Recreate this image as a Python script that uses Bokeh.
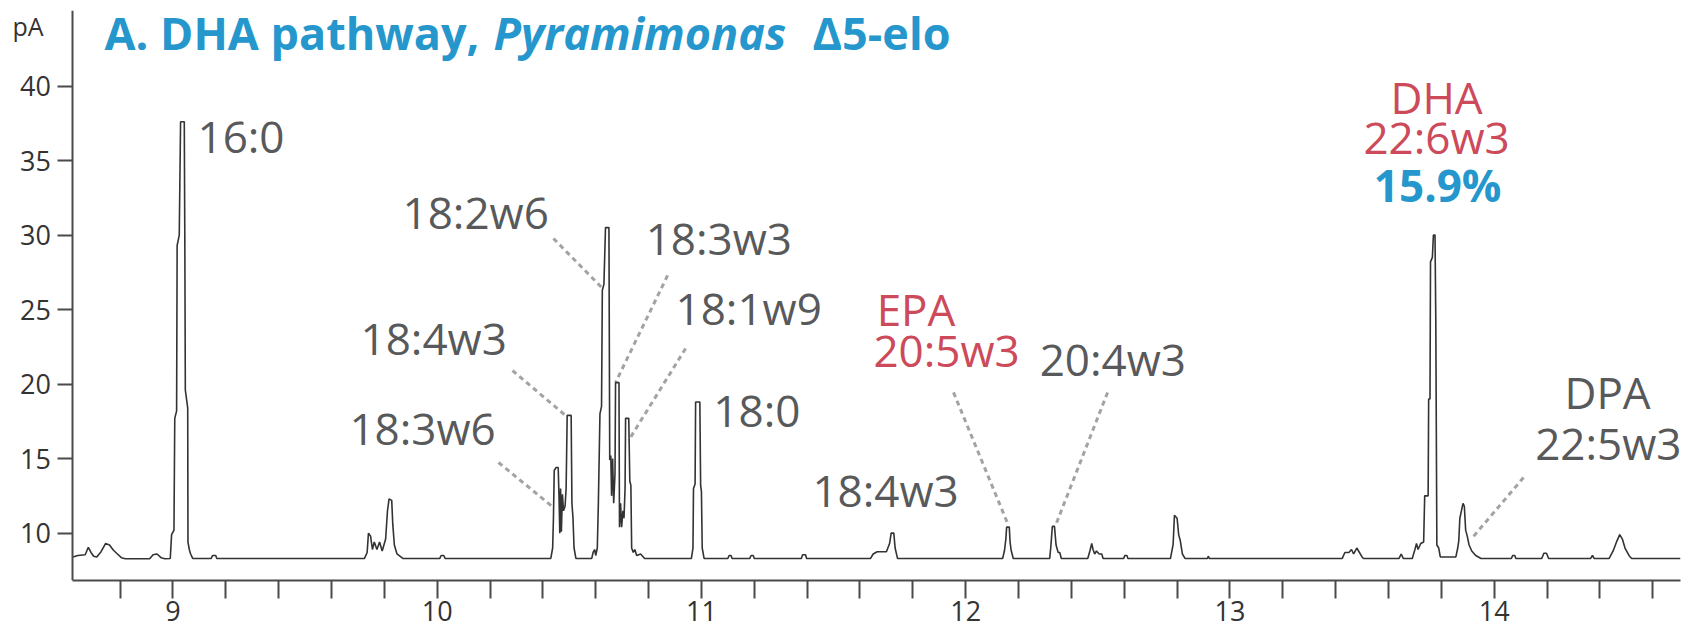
from bokeh.plotting import figure
from bokeh.models import Range1d, FixedTicker, Label
from bokeh.core.properties import value
from bokeh.embed import file_html
from bokeh.resources import INLINE

# ---- chromatogram trace (retention time in min, signal in pA) ----
rt = [8.622, 8.640, 8.668, 8.680, 8.690, 8.700, 8.712, 8.728, 8.745, 8.760, 8.775, 8.790, 8.805, 8.820,
      8.912, 8.925, 8.940, 8.955, 8.970, 8.990, 8.995, 9.004, 9.007, 9.014, 9.016, 9.024, 9.029, 9.043,
      9.045, 9.047, 9.056, 9.057, 9.062, 9.067, 9.075, 9.145, 9.150, 9.162, 9.166,
      9.725, 9.735, 9.740, 9.748, 9.755, 9.762, 9.772, 9.782, 9.792, 9.805, 9.812, 9.818, 9.828, 9.832,
      9.838, 9.848, 9.870, 10.010, 10.015, 10.025, 10.030,
      10.430, 10.437, 10.440, 10.443, 10.450, 10.458, 10.461, 10.464, 10.467, 10.470, 10.474, 10.478,
      10.484, 10.488, 10.492, 10.507, 10.510, 10.514, 10.518, 10.525, 10.585, 10.590, 10.596, 10.600,
      10.606, 10.610, 10.616, 10.622, 10.625, 10.631, 10.637, 10.650, 10.653, 10.657, 10.660, 10.664,
      10.668, 10.673, 10.675, 10.688, 10.690, 10.694, 10.698, 10.703, 10.707, 10.711, 10.713, 10.725,
      10.729, 10.733, 10.736, 10.742, 10.748, 10.755, 10.770, 10.785,
      10.962, 10.968, 10.970, 10.976, 10.978, 10.994, 10.997, 11.000, 11.003, 11.010,
      11.100, 11.105, 11.112, 11.116, 11.183, 11.188, 11.196, 11.200, 11.378, 11.383, 11.394, 11.398,
      11.640, 11.650, 11.665, 11.700, 11.712, 11.718, 11.728, 11.733, 11.742,
      12.140, 12.147, 12.152, 12.155, 12.165, 12.168, 12.172, 12.180,
      12.318, 12.322, 12.328, 12.336, 12.342, 12.350, 12.356, 12.362,
      12.462, 12.470, 12.477, 12.482, 12.488, 12.495, 12.505, 12.515, 12.520,
      12.598, 12.602, 12.610, 12.614,
      12.775, 12.785, 12.790, 12.800, 12.806, 12.812, 12.820, 12.830, 12.915, 12.918, 12.922,
      13.425, 13.435, 13.450, 13.460, 13.468, 13.480, 13.490, 13.500, 13.505,
      13.640, 13.648, 13.656, 13.690, 13.700, 13.706, 13.712, 13.722, 13.733, 13.737, 13.750, 13.752,
      13.757, 13.759, 13.766, 13.770, 13.776, 13.779, 13.783, 13.790, 13.796,
      13.855, 13.862, 13.866, 13.870, 13.882, 13.887, 13.892, 13.898, 13.905, 13.915, 13.930, 13.950,
      14.065, 14.070, 14.078, 14.082, 14.180, 14.188, 14.198, 14.206, 14.365, 14.372, 14.378,
      14.435, 14.450, 14.465, 14.475, 14.485, 14.495, 14.510, 14.520, 14.705]
signal = [8.40, 8.50, 8.55, 9.05, 8.70, 8.45, 8.40, 8.75, 9.30, 9.20, 8.85, 8.60, 8.35, 8.28,
          8.28, 8.55, 8.60, 8.35, 8.28, 8.30, 9.90, 10.20, 17.7, 18.2, 29.3, 30.0, 37.6, 37.6,
          30.0, 19.6, 18.4, 9.4, 8.9, 8.6, 8.3, 8.3, 8.5, 8.5, 8.3,
          8.3, 8.7, 10.0, 9.8, 8.9, 9.4, 8.9, 9.4, 8.8, 9.6, 11.5, 12.3, 12.2, 10.6,
          9.2, 8.6, 8.3, 8.3, 8.5, 8.5, 8.3,
          8.3, 9.0, 11.0, 14.2, 14.4, 14.4, 12.5, 10.0, 13.0, 10.1, 12.6, 11.5,
          11.8, 13.0, 17.9, 17.9, 12.0, 11.0, 9.0, 8.3, 8.3, 8.7, 8.9, 8.5,
          9.0, 12.0, 18.0, 18.5, 26.3, 26.7, 30.5, 30.5, 14.9, 15.2, 12.5, 15.0,
          12.0, 14.0, 20.1, 20.1, 10.4, 12.0, 10.4, 11.5, 11.0, 13.0, 17.7, 17.7,
          13.5, 13.2, 9.0, 8.7, 8.9, 8.5, 8.6, 8.3,
          8.3, 9.0, 13.0, 13.3, 18.8, 18.8, 13.2, 12.8, 9.0, 8.3,
          8.3, 8.5, 8.5, 8.3, 8.3, 8.5, 8.5, 8.3, 8.3, 8.55, 8.55, 8.3,
          8.3, 8.6, 8.75, 8.75, 9.3, 10.0, 10.0, 9.0, 8.3,
          8.3, 8.85, 9.6, 10.4, 10.4, 9.4, 8.85, 8.3,
          8.3, 9.05, 10.45, 10.45, 9.2, 8.7, 8.7, 8.3,
          8.3, 8.8, 9.3, 8.9, 8.6, 8.8, 8.6, 8.6, 8.3,
          8.3, 8.5, 8.5, 8.3,
          8.3, 9.25, 11.2, 11.0, 9.9, 9.5, 8.6, 8.3, 8.3, 8.45, 8.3,
          8.3, 8.7, 8.7, 8.9, 8.6, 9.0, 8.7, 8.4, 8.3,
          8.3, 8.6, 8.3, 8.3, 8.9, 9.3, 8.9, 9.3, 9.4, 12.5, 12.5, 19.0,
          19.0, 28.2, 28.5, 30.0, 30.0, 24.3, 9.2, 9.0, 8.4,
          8.4, 9.0, 9.5, 11.0, 12.0, 11.8, 10.2, 9.8, 9.2, 8.8, 8.5, 8.3,
          8.3, 8.5, 8.5, 8.3, 8.3, 8.65, 8.65, 8.3, 8.3, 8.5, 8.3,
          8.3, 8.8, 9.5, 9.9, 9.6, 9.0, 8.5, 8.3, 8.3]

# ---- axes ----
rt_start, rt_end = 8.6216, 14.705
y_ticks = [10, 15, 20, 25, 30, 35, 40]
x_ticks = [8.8, 9.0, 9.2, 9.4, 9.6, 9.8, 10.0, 10.2, 10.4, 10.6, 10.8, 11.0, 11.2, 11.4, 11.6, 11.8,
           12.0, 12.2, 12.4, 12.6, 12.8, 13.0, 13.2, 13.4, 13.6, 13.8, 14.0, 14.2, 14.4, 14.6]
x_tick_labels = {9.0: "9", 10.0: "10", 11.0: "11", 12.0: "12", 13.0: "13", 14.0: "14"}

# ---- peak annotations (gray, left aligned) ----
gray_text = ["16:0", "18:2w6", "18:3w3", "18:1w9", "18:4w3", "18:3w6", "18:0", "18:4w3", "20:4w3"]
gray_t = [9.093, 9.869, 10.789, 10.902, 9.710, 9.668, 11.045, 11.420, 12.280]
gray_v = [36.65, 31.55, 29.80, 25.11, 23.09, 17.05, 18.26, 12.89, 21.68]

# DPA (gray, centred)
dpa_text = ["DPA", "22:5w3"]
dpa_t = [14.429, 14.432]
dpa_v = [19.47, 16.05]

# EPA (red, left aligned)
epa_text = ["EPA", "20:5w3"]
epa_t = [11.663, 11.651]
epa_v = [25.04, 22.29]

# DHA (red, centred) + percentage (blue, bold)
dha_text = ["DHA", "22:6w3"]
dha_t = [13.782, 13.782]
dha_v = [39.27, 36.58]
pct_text = ["15.9%"]
pct_t = [13.786]
pct_v = [33.36]

# ---- dashed leader lines ----
lead_t0 = [10.232, 10.285, 10.440, 10.872, 10.940, 11.954, 12.537, 14.111]
lead_v0 = [14.74, 20.91, 29.77, 27.29, 22.39, 19.44, 19.44, 13.73]
lead_t1 = [10.440, 10.486, 10.626, 10.675, 10.724, 12.162, 12.340, 13.915]
lead_v1 = [11.72, 17.89, 26.42, 20.11, 16.21, 10.51, 10.51, 9.64]

GRAY = "#58595b"
RED = "#cc4a5a"
BLUE = "#2597cc"
FONT = "Open Sans"

# frame spans the whole width; the y axis sits at rt_start (fixed_location)
p = figure(width=1694, height=634, output_backend="svg", toolbar_location=None,
           x_range=Range1d(8.34756, rt_end), y_range=Range1d(6.82, 45.07),
           min_border_left=0, min_border_right=14, min_border_top=10, min_border_bottom=54)
p.outline_line_color = None
p.xgrid.visible = False
p.ygrid.visible = False
p.background_fill_color = "white"
p.border_fill_color = "white"

# x axis
xa = p.xaxis[0]
xa.bounds = (rt_start, rt_end)
xa.ticker = FixedTicker(ticks=x_ticks)
overrides = {t: "" for t in x_ticks}
for k, v in x_tick_labels.items():
    overrides[k] = v
xa.major_label_overrides = overrides
xa.major_tick_in = 0
xa.major_tick_out = 18
xa.minor_tick_line_color = None
xa.axis_line_width = 2
xa.axis_line_color = "#4a4a4a"
xa.major_tick_line_width = 2
xa.major_tick_line_color = "#4a4a4a"
xa.major_label_text_font = FONT
xa.major_label_text_font_size = "27px"
xa.major_label_text_color = "#333333"
xa.major_label_standoff = 2

# y axis
ya = p.yaxis[0]
ya.fixed_location = rt_start
ya.ticker = FixedTicker(ticks=y_ticks)
ya.major_tick_in = 0
ya.major_tick_out = 15
ya.minor_tick_line_color = None
ya.axis_line_width = 2
ya.axis_line_color = "#4a4a4a"
ya.major_tick_line_width = 2
ya.major_tick_line_color = "#4a4a4a"
ya.major_label_text_font = FONT
ya.major_label_text_font_size = "27px"
ya.major_label_text_color = "#333333"
ya.major_label_standoff = 7

# leaders
p.segment(x0=lead_t0, y0=lead_v0, x1=lead_t1, y1=lead_v1, line_color="#a3a3a3",
          line_width=3, line_dash="5 4")

# trace
p.line(rt, signal, line_color="#333333", line_width=1.6)

# annotations
p.text(x=gray_t, y=gray_v, text=gray_text, text_font=value(FONT), text_font_size="44px",
       text_color=GRAY, text_align="left", text_baseline="alphabetic")
p.text(x=dpa_t, y=dpa_v, text=dpa_text, text_font=value(FONT), text_font_size="44px",
       text_color=GRAY, text_align="center", text_baseline="alphabetic")
p.text(x=epa_t, y=epa_v, text=epa_text, text_font=value(FONT), text_font_size="44px",
       text_color=RED, text_align="left", text_baseline="alphabetic")
p.text(x=dha_t, y=dha_v, text=dha_text, text_font=value(FONT), text_font_size="44px",
       text_color=RED, text_align="center", text_baseline="alphabetic")
p.text(x=pct_t, y=pct_v, text=pct_text, text_font=value(FONT), text_font_size="44px",
       text_font_style="bold", text_color=BLUE, text_align="center", text_baseline="alphabetic")

# title pieces (screen units relative to the plot frame)
p.add_layout(Label(x=104, y=548, x_units="screen", y_units="screen", text="A. DHA pathway,",
                   text_font=FONT, text_font_size="45px", text_font_style="bold",
                   text_color=BLUE, text_baseline="alphabetic"))
p.add_layout(Label(x=493, y=548, x_units="screen", y_units="screen", text="Pyramimonas",
                   text_font=FONT, text_font_size="45px", text_font_style="bold italic",
                   text_color=BLUE, text_baseline="alphabetic"))
p.add_layout(Label(x=812, y=548, x_units="screen", y_units="screen", text="\u03945-elo",
                   text_font=FONT, text_font_size="45px", text_font_style="bold",
                   text_color=BLUE, text_baseline="alphabetic"))
# unit label, left of the y axis
p.add_layout(Label(x=12, y=555, x_units="screen", y_units="screen", text="pA",
                   text_font=FONT, text_font_size="25px", text_color="#333333",
                   text_baseline="alphabetic"))

open("out.html", "w").write(file_html(p, INLINE))
